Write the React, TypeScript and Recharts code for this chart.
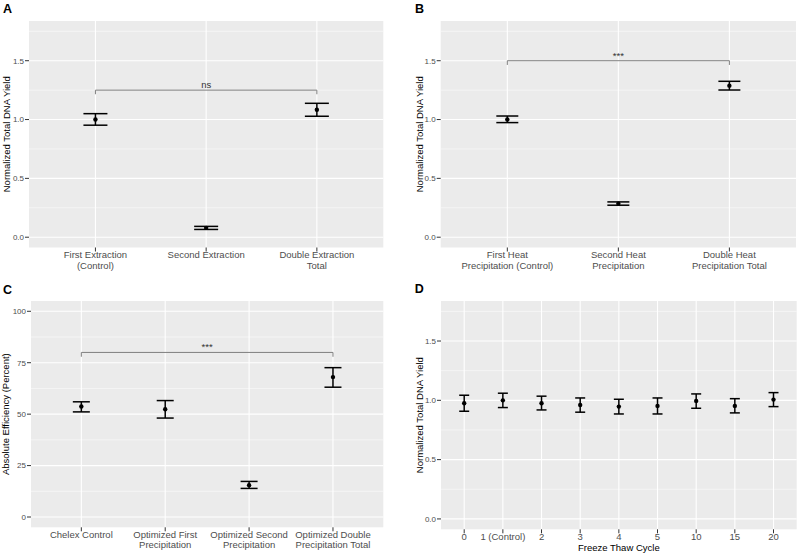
import React from 'react';
import {
  ComposedChart,
  Scatter,
  ErrorBar,
  XAxis,
  YAxis,
  CartesianGrid,
  ReferenceLine,
} from 'recharts';

const FONT = '"Liberation Sans", Arial, Helvetica, sans-serif';

// ---------- Panel A ----------
const catsA: string[][] = [['First Extraction', '(Control)'], ['Second Extraction'], ['Double Extraction', 'Total']];
const meanA = [1.0, 0.079, 1.083];
const lowA = [0.952, 0.066, 1.028];
const highA = [1.05, 0.092, 1.138];

// ---------- Panel B ----------
const catsB: string[][] = [['First Heat', 'Precipitation (Control)'], ['Second Heat', 'Precipitation'], ['Double Heat', 'Precipitation Total']];
const meanB = [1.0, 0.285, 1.288];
const lowB = [0.974, 0.272, 1.251];
const highB = [1.03, 0.3, 1.325];

// ---------- Panel C ----------
const catsC: string[][] = [['Chelex Control'], ['Optimized First', 'Precipitation'], ['Optimized Second', 'Precipitation'], ['Optimized Double', 'Precipitation Total']];
const meanC = [53.7, 52.4, 15.5, 68.0];
const lowC = [51.1, 48.1, 13.9, 63.1];
const highC = [56.0, 56.6, 17.3, 72.6];

// ---------- Panel D ----------
const catsD: string[][] = [['0'], ['1 (Control)'], ['2'], ['3'], ['4'], ['5'], ['10'], ['15'], ['20']];
const meanD = [0.975, 1.0, 0.975, 0.961, 0.947, 0.953, 0.995, 0.953, 1.006];
const lowD = [0.908, 0.939, 0.919, 0.9, 0.885, 0.885, 0.933, 0.894, 0.947];
const highD = [1.043, 1.06, 1.035, 1.02, 1.009, 1.02, 1.054, 1.014, 1.065];

// axis ticks
const yTicksNorm = [0, 0.5, 1.0, 1.5];
const yMinorNorm = [0.25, 0.75, 1.25, 1.75];
const yTicksPct = [0, 25, 50, 75, 100];
const yMinorPct = [12.5, 37.5, 62.5, 87.5];

type Bracket = { from: number; to: number; y: number; drop: number; text: string };

type PanelProps = {
  left: number;
  top: number;
  width: number;
  height: number;
  margin: { top: number; right: number; left: number; bottom: number };
  yWidth: number;
  xHeight: number;
  cats: string[][];
  mean: number[];
  low: number[];
  high: number[];
  yDomain: [number, number];
  yTicks: number[];
  yMinor: number[];
  yFmt: (v: number) => string;
  yTitle: string;
  yTitleDx: number;
  xTitle?: string;
  capHalf: number;
  bracket?: Bracket;
};

const XTick = (props: any) => {
  const { x, y, payload, cats } = props;
  const lines: string[] = cats[Math.round(payload.value) - 1] || [];
  return (
    <text x={x} y={y} textAnchor="middle" fontSize={9.5} fill="#4d4d4d" fontFamily={FONT}>
      {lines.map((l, i) => (
        <tspan key={i} x={x} dy={i === 0 ? '0.62em' : '1.07em'}>
          {l}
        </tspan>
      ))}
    </text>
  );
};

const YTitle = (props: any) => {
  const { viewBox, text, dx } = props;
  const cx = viewBox.x + dx;
  const cy = viewBox.y + viewBox.height / 2;
  return (
    <text
      x={cx}
      y={cy}
      transform={`rotate(-90 ${cx} ${cy})`}
      textAnchor="middle"
      dominantBaseline="central"
      fontSize={9.5}
      fill="#000"
      fontFamily={FONT}
    >
      {text}
    </text>
  );
};

const XTitle = (props: any) => {
  const { viewBox, text } = props;
  const cx = viewBox.x + viewBox.width / 2;
  const cy = viewBox.y + 21.6;
  return (
    <text x={cx} y={cy} textAnchor="middle" fontSize={9.5} fill="#000" fontFamily={FONT}>
      {text}
    </text>
  );
};

const Dot = (props: any) => {
  const { cx, cy } = props;
  if (cx == null || cy == null) return null;
  return <circle cx={cx} cy={cy} r={2.2} fill="#000" />;
};

const Panel = (p: PanelProps) => {
  const n = p.cats.length;
  const xVals = p.cats.map((_, i) => i + 1);
  const rows = p.cats.map((_, i) => ({
    x: i + 1,
    y: p.mean[i],
    err: [p.mean[i] - p.low[i], p.high[i] - p.mean[i]],
  }));
  const b = p.bracket;
  return (
    <div style={{ position: 'absolute', left: p.left, top: p.top, width: p.width, height: p.height }}>
      <ComposedChart width={p.width} height={p.height} margin={p.margin} data={rows}>
        <CartesianGrid
          fill="#ebebeb"
          fillOpacity={1}
          stroke="#ffffff"
          strokeWidth={0.5}
          vertical={false}
          horizontalValues={p.yMinor}
        />
        <CartesianGrid
          stroke="#ffffff"
          strokeWidth={1.1}
          horizontalValues={p.yTicks}
          verticalValues={xVals}
        />
        <XAxis
          type="number"
          dataKey="x"
          domain={[0.4, n + 0.6]}
          ticks={xVals}
          interval={0}
          allowDataOverflow
          axisLine={false}
          tickLine={{ stroke: '#333333', strokeWidth: 1 }}
          tickSize={4}
          tickMargin={1}
          height={p.xHeight}
          tick={<XTick cats={p.cats} />}
          label={p.xTitle ? <XTitle text={p.xTitle} /> : undefined}
        />
        <YAxis
          type="number"
          dataKey="y"
          domain={p.yDomain}
          ticks={p.yTicks}
          interval={0}
          allowDataOverflow
          axisLine={false}
          tickLine={{ stroke: '#333333', strokeWidth: 1 }}
          tickSize={4}
          tickMargin={1}
          width={p.yWidth}
          tickFormatter={p.yFmt}
          tick={{ fontSize: 8, fill: '#4d4d4d', fontFamily: FONT }}
          label={<YTitle text={p.yTitle} dx={p.yTitleDx} />}
        />
        {b && (
          <ReferenceLine
            segment={[
              { x: b.from, y: b.drop },
              { x: b.from, y: b.y },
            ]}
            stroke="#7f7f7f"
            strokeWidth={1}
            ifOverflow="visible"
          />
        )}
        {b && (
          <ReferenceLine
            segment={[
              { x: b.to, y: b.drop },
              { x: b.to, y: b.y },
            ]}
            stroke="#7f7f7f"
            strokeWidth={1}
            ifOverflow="visible"
          />
        )}
        {b && (
          <ReferenceLine
            segment={[
              { x: b.from, y: b.y },
              { x: b.to, y: b.y },
            ]}
            stroke="#7f7f7f"
            strokeWidth={1}
            ifOverflow="visible"
            label={{
              value: b.text,
              position: 'top',
              offset: 2,
              fontSize: 9.5,
              fill: '#333333',
              fontFamily: FONT,
            }}
          />
        )}
        <Scatter dataKey="y" isAnimationActive={false} shape={<Dot />}>
          <ErrorBar
            dataKey="err"
            direction="y"
            width={p.capHalf}
            stroke="#000"
            strokeWidth={1.5}
            isAnimationActive={false}
          />
        </Scatter>
      </ComposedChart>
    </div>
  );
};

const fmt1 = (v: number) => v.toFixed(1);
const fmt0 = (v: number) => String(v);
const normDomain: [number, number] = [-0.0875, 1.8375];

export default function App() {
  return (
    <div style={{ position: 'absolute', left: 0, top: 0, width: 798, height: 555, background: '#fff', fontFamily: FONT }}>
      <Panel
        left={0}
        top={0}
        width={399}
        height={277}
        margin={{ top: 21, right: 15.7, left: 0, bottom: 0 }}
        yWidth={29}
        xHeight={29.5}
        cats={catsA}
        mean={meanA}
        low={lowA}
        high={highA}
        yDomain={normDomain}
        yTicks={yTicksNorm}
        yMinor={yMinorNorm}
        yFmt={fmt1}
        yTitle="Normalized Total DNA Yield"
        yTitleDx={6}
        capHalf={12}
        bracket={{ from: 1, to: 3, y: 1.25, drop: 1.215, text: 'ns' }}
      />
      <Panel
        left={399}
        top={0}
        width={399}
        height={277}
        margin={{ top: 21, right: 2, left: 0, bottom: 0 }}
        yWidth={41.7}
        xHeight={29.5}
        cats={catsB}
        mean={meanB}
        low={lowB}
        high={highB}
        yDomain={normDomain}
        yTicks={yTicksNorm}
        yMinor={yMinorNorm}
        yFmt={fmt1}
        yTitle="Normalized Total DNA Yield"
        yTitleDx={20.7}
        capHalf={11}
        bracket={{ from: 1, to: 3, y: 1.5, drop: 1.464, text: '***' }}
      />
      <Panel
        left={0}
        top={277}
        width={399}
        height={278}
        margin={{ top: 24, right: 15.7, left: 0, bottom: 0 }}
        yWidth={31}
        xHeight={27.7}
        cats={catsC}
        mean={meanC}
        low={lowC}
        high={highC}
        yDomain={[-5, 105]}
        yTicks={yTicksPct}
        yMinor={yMinorPct}
        yFmt={fmt0}
        yTitle="Absolute Efficiency (Percent)"
        yTitleDx={6}
        capHalf={8.5}
        bracket={{ from: 1, to: 4, y: 80, drop: 77.9, text: '***' }}
      />
      <Panel
        left={399}
        top={277}
        width={399}
        height={278}
        margin={{ top: 24, right: 1.3, left: 0, bottom: 0 }}
        yWidth={42}
        xHeight={25.7}
        cats={catsD}
        mean={meanD}
        low={lowD}
        high={highD}
        yDomain={normDomain}
        yTicks={yTicksNorm}
        yMinor={yMinorNorm}
        yFmt={fmt1}
        yTitle="Normalized Total DNA Yield"
        yTitleDx={20.7}
        xTitle="Freeze Thaw Cycle"
        capHalf={5}
      />
      <svg width={798} height={555} style={{ position: 'absolute', left: 0, top: 0, pointerEvents: 'none' }}>
        <text x={3} y={12.7} fontSize={12.5} fontWeight="bold" fill="#000" fontFamily={FONT}>A</text>
        <text x={415} y={13} fontSize={12.5} fontWeight="bold" fill="#000" fontFamily={FONT}>B</text>
        <text x={3} y={294} fontSize={12.5} fontWeight="bold" fill="#000" fontFamily={FONT}>C</text>
        <text x={414.7} y={293.3} fontSize={12.5} fontWeight="bold" fill="#000" fontFamily={FONT}>D</text>
      </svg>
    </div>
  );
}
